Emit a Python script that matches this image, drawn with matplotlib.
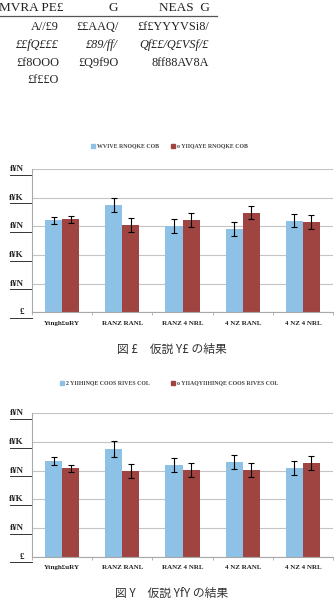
import matplotlib
matplotlib.use("Agg")
import matplotlib.pyplot as plt
import matplotlib.transforms as mtransforms
import numpy as np

W, H = 334, 614
BLUE = "#8dc1e6"
RED = "#a04442"
GRID = "#c4c4c4"
AXIS = "#a8a8a8"
TEXT = "#222222"

# table (glyphs as they appear in the source)
table_header = ["MVRA PE£", "G", "NEAS  G"]
table_rows = [
    ["A//£9", "££AAQ/", "£f£YYYVSi8/"],
    ["££fQ£££", "£89/ff/", "Qf££/Q£VSf/£"],
    ["£f8OOO", "£Q9f9O", "8ff88AV8A"],
    ["£f££O", "", ""],
]

categories = ["Ytngh£uRY", "RANZ RANL", "RANZ 4 NRL", "4 NZ RANL", "4 NZ 4 NRL"]
ytick_vals = [0, 1, 2, 3, 4, 5]
ytick_labels = ["£", "f¥N", "f¥K", "f¥N", "f¥K", "f¥N"]

# chart 1
c1_legend = ["WVIVE RNOQKE COB", "o YIIQAYE RNOQKE COB"]
c1_blue = [3.21, 3.75, 3.00, 2.90, 3.20]
c1_blue_err = [0.12, 0.24, 0.25, 0.24, 0.23]
c1_red = [3.25, 3.04, 3.23, 3.48, 3.16]
c1_red_err = [0.12, 0.24, 0.25, 0.24, 0.25]
c1_caption = "図 £　仮説 Y£ の結果"

# chart 2
c2_legend = ["2 YIIHINQE COOS RIVES COL", "o YIIAQYIIHINQE COOS RIVES COL"]
c2_blue = [3.33, 3.76, 3.19, 3.29, 3.08]
c2_blue_err = [0.14, 0.27, 0.24, 0.24, 0.24]
c2_red = [3.08, 2.99, 3.02, 3.02, 3.26]
c2_red_err = [0.13, 0.24, 0.24, 0.25, 0.24]
c2_caption = "図 Y　仮説 YfY の結果"

fig = plt.figure(figsize=(W / 100, H / 100), dpi=100)
fig.patch.set_facecolor("white")


def px(x, y):
    return x / W, 1 - y / H


# ---- table ----
head_x = [31, 113, 184]
col_right = [59, 118, 209]
for i, t in enumerate(table_header):
    fig.text(*px(head_x[i], 8), t, ha="center", va="center", fontsize=9.5,
             family="Liberation Serif", color=TEXT)
fig.add_artist(plt.Line2D([0, 217 / W], [1 - 15.5 / H] * 2, color="#555555", lw=0.9))
row_y = [27, 45, 63, 80]
for r, row in enumerate(table_rows):
    for c, t in enumerate(row):
        if t:
            fig.text(*px(col_right[c], row_y[r]), t, ha="right", va="center",
                     fontsize=8.8, family="Liberation Serif", color=TEXT,
                     style="italic" if r == 1 else "normal")


def draw_chart(top_px, blue, blue_err, red, red_err, legend, leg_y, leg_x, caption, cap_y):
    left, right, bottom = 32, 333, top_px + 143.3
    ax = fig.add_axes([left / W, 1 - bottom / H, (right - left) / W, 143.3 / H])
    x = np.arange(len(categories))
    bw = 0.283
    ekw = dict(ecolor="black", elinewidth=0.8, capsize=2.2, capthick=0.8)
    ax.bar(x - bw / 2, blue, bw, color=BLUE, yerr=blue_err, error_kw=ekw, zorder=2)
    ax.bar(x + bw / 2, red, bw, color=RED, yerr=red_err, error_kw=ekw, zorder=2)
    ax.set_xlim(-0.5, len(categories) - 0.5)
    ax.set_ylim(0, 5)
    ax.set_yticks(ytick_vals)
    ax.set_yticklabels(ytick_labels, fontsize=6.5, family="Liberation Serif",
                       weight="bold", color=TEXT, va="center")
    ax.yaxis.grid(True, color=GRID, lw=0.8, zorder=0)
    ax.set_axisbelow(True)
    ax.set_xticks(np.arange(len(categories) + 1) - 0.5, minor=True)
    ax.set_xticks(x)
    ax.set_xticklabels(categories, fontsize=5, family="Liberation Serif",
                       weight="bold", color=TEXT)
    ax.tick_params(axis="x", which="major", length=0, pad=6)
    ax.tick_params(axis="x", which="minor", length=2.5, color=AXIS)
    ax.tick_params(axis="y", length=0, pad=6)
    for s in ["top", "right"]:
        ax.spines[s].set_visible(False)
    for s in ["left", "bottom"]:
        ax.spines[s].set_color(AXIS)
        ax.spines[s].set_linewidth(0.8)
    trans = mtransforms.blended_transform_factory(ax.transAxes, ax.transData)
    for v in ytick_vals:
        ax.plot([-0.073, 0], [v - 0.2] * 2, color="#333333", lw=0.7,
                transform=trans, clip_on=False)
    # legend
    for (sx, label, col) in zip(leg_x, legend, [BLUE, RED]):
        fig.add_artist(plt.Rectangle(px(sx - 2, leg_y + 2), 4 / W, 4 / H,
                                     transform=fig.transFigure, color=col))
        fig.text(*px(sx + 4, leg_y), label, ha="left", va="center", fontsize=4.2,
                 family="Liberation Serif", weight="bold", color="#444444")
    fig.text(*px(172, cap_y), caption, ha="center", va="center", fontsize=8.5,
             family=["Noto Sans CJK JP", "DejaVu Sans"], color="#333333")
    return ax


draw_chart(169, c1_blue, c1_blue_err, c1_red, c1_red_err, c1_legend, 146, [93, 173],
           c1_caption, 349)
draw_chart(413.3, c2_blue, c2_blue_err, c2_red, c2_red_err, c2_legend, 383, [62, 173],
           c2_caption, 593)

fig.savefig("out.png", dpi=100, facecolor="white")
